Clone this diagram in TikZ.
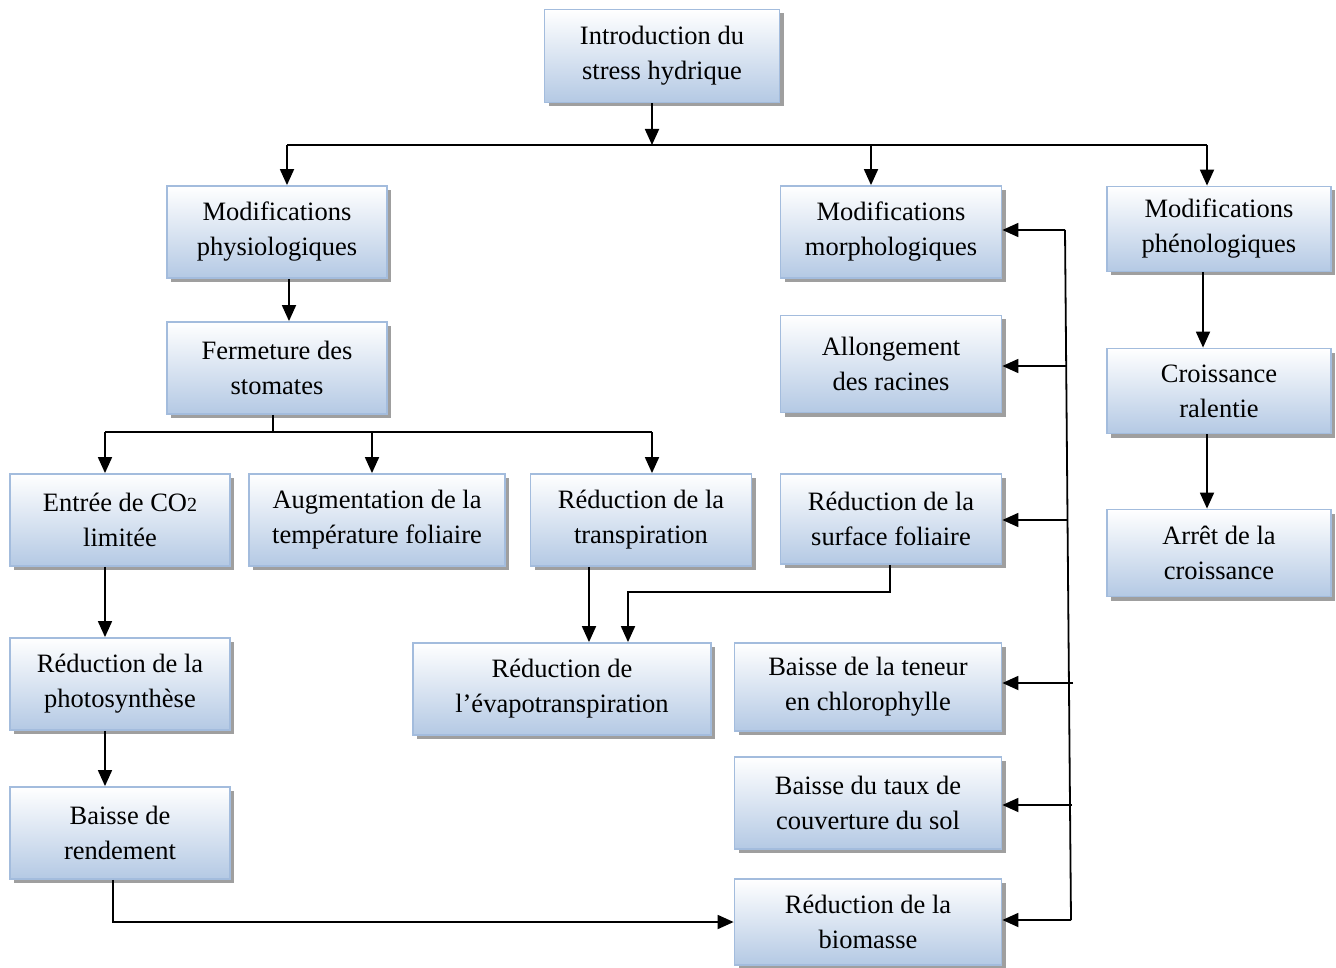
\documentclass[tikz,border=0pt]{standalone}
\usepackage{fontspec}
\setmainfont{Liberation Serif}
\usetikzlibrary{arrows.meta,shadows}
\definecolor{boxborder}{HTML}{A3BCDD}
\definecolor{boxblue}{HTML}{B4C9E4}
\begin{document}
\begin{tikzpicture}[x=1pt,y=-1pt,
  box/.style={draw=boxborder, line width=1.8pt, top color=white, bottom color=boxblue,
    align=center, inner sep=0pt, font=\fontsize{26.5}{35}\selectfont,
    drop shadow={shadow xshift=4pt, shadow yshift=-4pt, fill=gray!75, opacity=1}},
  arr/.style={line width=1.8pt, -{Triangle[length=16pt,width=14pt]}},
  ln/.style={line width=1.8pt}]
\useasboundingbox (0,0) rectangle (1336,968);
% boxes
\node[box, minimum width=235pt, minimum height=93pt] (intro) at (662,56) {Introduction du\\stress hydrique};
\node[box, minimum width=220pt, minimum height=92pt] (physio) at (277,232) {Modifications\\physiologiques};
\node[box, minimum width=221pt, minimum height=92pt] (morph) at (891,232) {Modifications\\morphologiques};
\node[box, minimum width=224pt, minimum height=85pt] (pheno) at (1219,229) {Modifications\\phénologiques};
\node[box, minimum width=220pt, minimum height=92pt] (ferm) at (277,368) {Fermeture des\\stomates};
\node[box, minimum width=221pt, minimum height=97pt] (allong) at (891,364) {Allongement\\des racines};
\node[box, minimum width=224pt, minimum height=85pt] (croiss) at (1219,391) {Croissance\\ralentie};
\node[box, minimum width=220pt, minimum height=92pt] (co2) at (120,520) {Entrée de CO{\fontsize{20}{35}\selectfont 2}\\limitée};
\node[box, minimum width=256pt, minimum height=92pt] (aug) at (377,520) {Augmentation de la\\température foliaire};
\node[box, minimum width=221pt, minimum height=92pt] (transp) at (641,520) {Réduction de la\\transpiration};
\node[box, minimum width=221pt, minimum height=90pt] (surf) at (891,519) {Réduction de la\\surface foliaire};
\node[box, minimum width=224pt, minimum height=87pt] (arret) at (1219,553) {Arrêt de la\\croissance};
\node[box, minimum width=220pt, minimum height=92pt] (photo) at (120,684) {Réduction de la\\photosynthèse};
\node[box, minimum width=298pt, minimum height=92pt] (evapo) at (562,689) {Réduction de\\l’évapotranspiration};
\node[box, minimum width=267pt, minimum height=88pt] (chloro) at (868,687) {Baisse de la teneur\\en chlorophylle};
\node[box, minimum width=220pt, minimum height=92pt] (rend) at (120,833) {Baisse de\\rendement};
\node[box, minimum width=267pt, minimum height=92pt] (couv) at (868,803) {Baisse du taux de\\couverture du sol};
\node[box, minimum width=267pt, minimum height=86pt] (bio) at (868,922) {Réduction de la\\biomasse};
% top tree
\coordinate (j1) at (652,145);
\coordinate (p1) at (287,145);
\coordinate (p2) at (871,145);
\coordinate (p3) at (1207,145);
\draw[arr] (intro.south -| j1) -- (j1);
\draw[ln] (p1) -- (p3);
\draw[arr] (p1) -- (physio.north -| p1);
\draw[arr] (p2) -- (morph.north -| p2);
\draw[arr] (p3) -- (pheno.north -| p3);
\draw[arr] ([xshift=12pt]physio.south) -- ([xshift=12pt]ferm.north);
% pheno chain
\draw[arr] ([xshift=-16pt]pheno.south) -- ([xshift=-16pt]croiss.north);
\draw[arr] ([xshift=-12pt]croiss.south) -- ([xshift=-12pt]arret.north);
% fermeture tree
\coordinate (f0) at (273,432);
\coordinate (f1) at (105,432);
\coordinate (f2) at (372,432);
\coordinate (f3) at (652,432);
\draw[ln] (ferm.south -| f0) -- (f0);
\draw[ln] (f1) -- (f3);
\draw[arr] (f1) -- (co2.north -| f1);
\draw[arr] (f2) -- (aug.north -| f2);
\draw[arr] (f3) -- (transp.north -| f3);
% left chain
\draw[arr] ([xshift=-15pt]co2.south) -- ([xshift=-15pt]photo.north);
\draw[arr] ([xshift=-15pt]photo.south) -- ([xshift=-15pt]rend.north);
\draw[arr] ([xshift=-7pt]rend.south) |- (bio.west);
% evapotranspiration
\coordinate (e1) at (589,566);
\draw[arr] (transp.south -| e1) -- (evapo.north -| e1);
\coordinate (e2) at (628,592);
\draw[arr] ([xshift=-1pt]surf.south) |- (e2) -- (evapo.north -| e2);
% morphological bus
\coordinate (v1) at (1065,230);
\coordinate (v2) at (1071,920);
\draw[ln] (v1) -- (v2);
\draw[arr] (v1) -- (morph.east |- v1);
\draw[arr] (1066,366) -- (allong.east |- 0,366);
\draw[arr] (1067.5,520) -- (surf.east |- 0,520);
\draw[arr] (1073,683) -- (chloro.east |- 0,683);
\draw[arr] (1072,805) -- (couv.east |- 0,805);
\draw[arr] (v2) -- (bio.east |- v2);
\end{tikzpicture}
\end{document}
